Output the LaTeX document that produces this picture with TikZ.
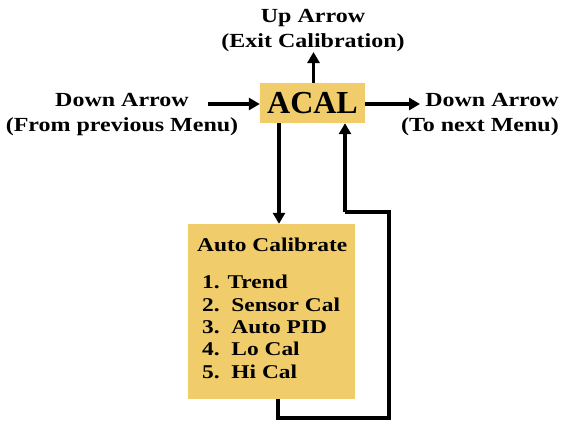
\documentclass[tikz,border=0pt]{standalone}
\usepackage{fontspec}
\usetikzlibrary{arrows.meta}
\newfontfamily\bmpfont[FakeStretch=1.2]{Liberation Serif}
\newfontfamily\serifbig{Liberation Serif}
\definecolor{boxyellow}{RGB}{240,204,106}
\tikzset{
  lbl/.style={font=\bmpfont\bfseries\fontsize{20}{25}\selectfont, align=center, inner sep=0pt},
  item/.style={font=\bmpfont\bfseries\fontsize{19.5}{22}\selectfont, anchor=base west, inner sep=0pt},
  conn/.style={line width=3.8pt, -{Triangle[length=11pt,width=12pt]}},
  plain/.style={line width=3.8pt},
}
\begin{document}
\begin{tikzpicture}[x=1pt,y=-1pt]
\useasboundingbox (0,0) rectangle (561,424);
% main node
\node[fill=boxyellow, minimum width=105pt, minimum height=40pt, inner sep=0pt,
      font=\serifbig\bfseries\fontsize{32}{32}\selectfont] (acal) at (312.5,103) {ACAL};
% labels
\node[lbl] (up) at (313,31) {Up Arrow\\(Exit Calibration)};
\node[lbl] (left) at (122,114.5) {Down Arrow\\(From previous Menu)};
\node[lbl, align=right, anchor=east] (right) at (559,114.5) {Down Arrow\\(To next Menu)};
% calibrate box
\node[fill=boxyellow, minimum width=167pt, minimum height=175pt, inner sep=0pt] (box) at (271.5,311.5) {};
\node[item] (title) at (197,251.5) {Auto Calibrate};
\node[item] (l1) at (202,288.5) {1. Trend};
\node[item] (l2) at (202,311.5) {2.\ \ Sensor Cal};
\node[item] (l3) at (202,333.5) {3.\ \ Auto PID};
\node[item] (l4) at (202,355) {4.\ \ Lo Cal};
\node[item] (l5) at (202,378.5) {5.\ \ Hi Cal};
% coordinates
\coordinate (uptip) at (313.5,52);
\coordinate (lstart) at (208,104);
\coordinate (rtip) at (420,104);
\coordinate (dx) at (279,0);
\coordinate (rx) at (345,0);
\coordinate (c1) at (278,418);
\coordinate (c2) at (389,418);
\coordinate (c3) at (389,212);
\coordinate (c4) at (345,212);
% connectors
\draw[conn] (acal.north -| uptip) -- (uptip);
\draw[conn] (lstart) -- (acal.west |- lstart);
\draw[conn] (acal.east |- rtip) -- (rtip);
\draw[conn] (acal.south -| dx) -- (box.north -| dx);
\draw[plain, line join=miter] (box.south -| c1) -- (c1) -- (c2) -- (c3) -- (c4);
\draw[conn] (c4) -- (acal.south -| rx);
\end{tikzpicture}
\end{document}
